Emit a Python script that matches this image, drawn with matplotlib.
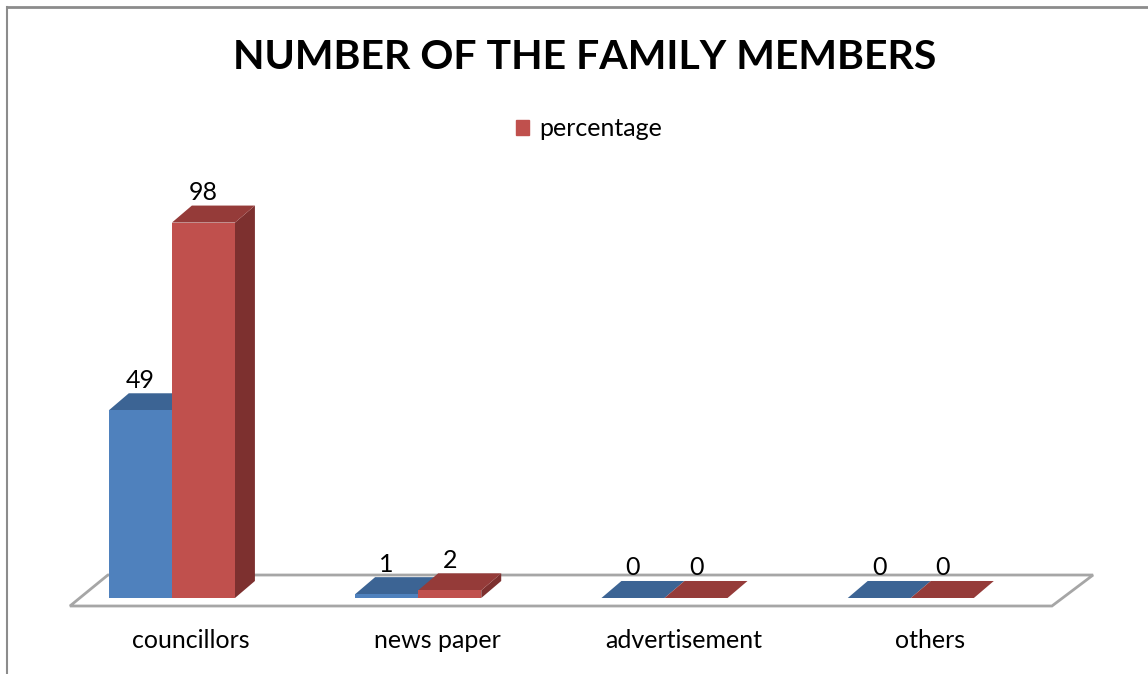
import matplotlib
matplotlib.use("Agg")
import matplotlib.pyplot as plt
from matplotlib.patches import Patch
from matplotlib.lines import Line2D

plt.rcParams['font.family'] = ['Lato', 'DejaVu Sans']

categories = ["councillors", "news paper", "advertisement", "others"]
counts = [49, 1, 0, 0]
percentage = [98, 2, 0, 0]
title = "NUMBER OF THE FAMILY MEMBERS"

# pseudo-3d geometry, in axis units (x: category index, y: value)
bar_w = 0.256
depth_x = 0.081
depth_y = 4.44

blue = {"front": "#4F81BD", "top": "#3C6494", "side": "#2F5179"}
red = {"front": "#C0504D", "top": "#953B39", "side": "#7D302F"}


def bar3d(ax, x0, h, c):
    x1 = x0 + bar_w
    # right side face
    ax.fill([x1, x1 + depth_x, x1 + depth_x, x1],
            [0, depth_y, h + depth_y, h], color=c["side"], lw=0, zorder=3)
    # top face
    ax.fill([x0, x1, x1 + depth_x, x0 + depth_x],
            [h, h, h + depth_y, h + depth_y], color=c["top"], lw=0, zorder=3)
    # front face
    if h > 0:
        ax.fill([x0, x1, x1, x0], [0, 0, h, h], color=c["front"], lw=0, zorder=3)


fig = plt.figure(figsize=(11.48, 6.74), dpi=100)
ax = fig.add_axes([0, 0, 1, 1])
ax.set_xlim(-0.698, 3.963)
ax.set_ylim(-19.84, 156.1)
ax.axis("off")

# floor
ax.fill([-0.414, 3.573, 3.74, -0.26], [-2.09, -2.09, 6.0, 6.0],
        facecolor="white", edgecolor="#A6A6A6", lw=2, zorder=1)

for i, cat in enumerate(categories):
    xb = i - bar_w
    xr = i
    bar3d(ax, xb, counts[i], blue)
    bar3d(ax, xr, percentage[i], red)
    ax.text(xb + bar_w / 2, counts[i] + depth_y + 0.4, str(counts[i]),
            ha="center", va="bottom", fontsize=18, zorder=5)
    ax.text(xr + bar_w / 2, percentage[i] + depth_y + 0.4, str(percentage[i]),
            ha="center", va="bottom", fontsize=18, zorder=5)
    ax.text(i + 0.077, -11.2, cat, ha="center", va="center", fontsize=18)

fig.text(0.509, 0.914, title, ha="center", va="center",
         fontsize=29.5, fontweight="bold")

ax.legend(handles=[Patch(color=red["front"], label="percentage")],
          loc="center", bbox_to_anchor=(0.513, 0.809), frameon=False,
          fontsize=18, handlelength=0.55, handleheight=0.55, handletextpad=0.4)

# chart border (top and left edges)
fig.add_artist(Line2D([0.006, 1], [0.99, 0.99], color="#8C8C8C", lw=2))
fig.add_artist(Line2D([0.006, 0.006], [0, 0.99], color="#8C8C8C", lw=1.5))

fig.savefig("out.png", dpi=100)
